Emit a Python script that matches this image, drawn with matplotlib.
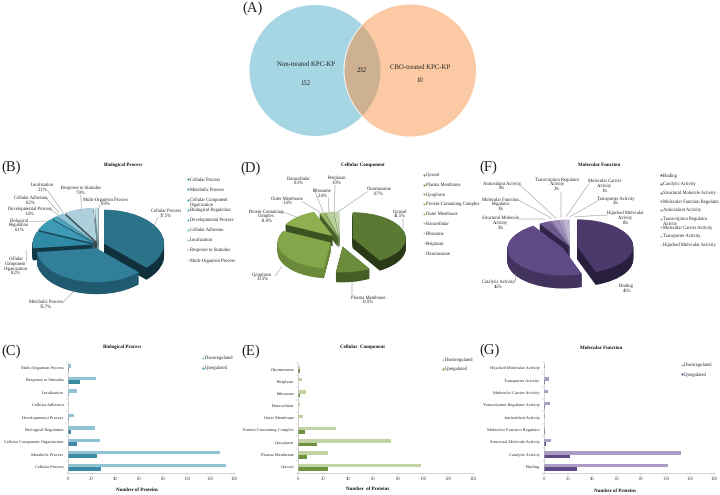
import numpy as np
import matplotlib
matplotlib.use("Agg")
import matplotlib.pyplot as plt
from matplotlib.patches import Circle

plt.rcParams['font.family'] = ['Liberation Serif', 'DejaVu Serif']
plt.rcParams['text.hinting'] = 'no_hinting'
W, H = 720, 495

# ---------- data ----------
bp_cats = ["Cellular Process", "Metabolic Process", "Cellular Component Organization",
           "Biological Regulation", "Developmental Process", "Cellular Adhesion",
           "Localization", "Response to Stimulus", "Multi-Organism Process"]
bp_down = [133, 128, 27, 23, 5, 1, 8, 24, 3]
bp_up = [28, 25, 8, 3, 1, 0, 1, 10, 1]

cc_cats = ["Cytosol", "Plasma Membrane", "Cytoplasm", "Protein-Containing Complex",
           "Outer Membrane", "Extracellular", "Ribosome", "Periplasm", "Chromosome"]
cc_down = [98, 24, 74, 30, 4, 1, 6, 3, 1]
cc_up = [24, 7, 15, 5, 0, 0, 1, 0, 1]

mf_cats = ["Binding", "Catalytic Activity", "Structural Molecule Activity",
           "Molecular Function Regulator", "Antioxidant Activity",
           "Transcription Regulator Activity", "Molecular Carrier Activity",
           "Transporter Activity", "Hijacked Molecular Activity"]
mf_down = [102, 113, 6, 1, 1, 5, 3, 4, 1]
mf_up = [27, 21, 2, 1, 0, 1, 0, 1, 0]

venn_left = "Non-treated KPC-KP"
venn_right = "CBO-treated KPC-KP"
venn_counts = [152, 232, 10]

bp_labels = ["Cellular Process\n37.5%", "Metabolic Process\n35.7%",
             "Cellular\nComponent\nOrganization\n8.2%", "Biological\nRegulation\n6.1%",
             "Developmental Process\n1.4%", "Cellular Adhesion\n0.2%",
             "Localization\n2.1%", "Response to Stimulus\n7.9%",
             "Multi-Organism Process\n0.9%"]
cc_labels = ["Cytosol\n41.5%", "Plasma Membrane\n10.5%", "Cytoplasm\n30.3%",
             "Protein-Containing\nComplex\n11.9%", "Outer Membrane\n1.4%",
             "Extracellular\n0.3%", "Ribosome\n2.4%", "Periplasm\n1.0%", "Chromosome\n0.7%"]
mf_labels = ["Binding\n45%", "Catalytic Activity\n46%", "Structural Molecule\nActivity\n3%",
             "Molecular Function\nRegulator\n1%", "Antioxidant Activity\n0%",
             "Transcription Regulator\nActivity\n2%", "Molecular Carrier\nActivity\n1%",
             "Transporter Activity\n2%", "Hijacked Molecular\nActivity\n0%"]

# ---------- layout & style ----------
bp_colors = ['#2b7389', '#327f9a', '#2f8aa6', '#3f9ab5', '#4ea5bd', '#6fb4c7', '#8ec4d4', '#aed0dc', '#c6e0e8']
bp_sides = ['#10303c', '#1f5a70', '#123644', '#1a4a5c', '#22566a', '#30687c', '#40788a', '#3c4a50', '#6f8c96']
cc_colors = ['#5a7a34', '#6b8c3d', '#84a64a', '#8fb04f', '#9dbb68', '#a9c37d', '#bad09a', '#cadcb4', '#dbe6cc']
cc_sides = ['#2a3a18', '#465e26', '#6a8a3a', '#3c5220', '#45602a', '#556f38', '#65804a', '#77905c', '#8aa070']
mf_colors = ['#4b3a6b', '#5f4a85', '#6c5a90', '#7a699b', '#8878a8', '#9a8cb6', '#ab9fc3', '#bfb5d1', '#d5cfe0']
mf_sides = ['#281e3e', '#43335f', '#2f2447', '#3b2e55', '#483a62', '#554870', '#665a80', '#786e90', '#8a84a0']
TXT = 3.3


def pie3d(values, colors, sides, cx, cy, rx, ry, depth, explode):
    m = 1.7
    ax = fig.add_axes([(cx - m * rx) / W, 1 - (cy + m * ry) / H, 2 * m * rx / W, 2 * m * ry / H])
    for z in np.arange(depth, 0, -0.5):
        ax.pie(values, colors=sides, startangle=90, counterclock=False, explode=explode,
               center=(0, -z / ry), radius=1, wedgeprops={'linewidth': 0})
    ax.pie(values, colors=colors, startangle=90, counterclock=False, explode=explode,
           center=(0, 0), radius=1, wedgeprops={'linewidth': 0})
    ax.set_aspect('auto')
    ax.set_xlim(-m, m)
    ax.set_ylim(-m, m)
    ax.axis('off')
    return ax


def barpanel(cats, down, up, c_down, c_up, x0, x1, y0, y1):
    ax = fig.add_axes([x0 / W, 1 - y1 / H, (x1 - x0) / W, (y1 - y0) / H])
    y = np.arange(len(cats))
    ax.barh(y + 0.13, down, height=0.27, color=c_down, linewidth=0)
    ax.barh(y - 0.16, up, height=0.31, color=c_up, linewidth=0)
    ax.set_xlim(0, 140)
    ax.set_ylim(-0.5, len(cats) - 0.5)
    ax.set_yticks(y, cats, fontsize=3.15, color='#222222')
    ax.set_yticks(np.arange(-0.5, len(cats)), minor=True)
    ax.set_xticks(np.arange(0, 141, 20))
    ax.tick_params(axis='x', labelsize=TXT, length=1.2, width=0.3, color='#aaaaaa',
                   labelcolor='#444444', pad=1.5)
    ax.tick_params(axis='y', which='major', length=0, pad=3)
    ax.tick_params(axis='y', which='minor', length=1.2, width=0.3, color='#aaaaaa')
    for s in ('top', 'right'):
        ax.spines[s].set_visible(False)
    for s in ('left', 'bottom'):
        ax.spines[s].set_linewidth(0.4)
        ax.spines[s].set_color('#b5b5b5')
    return ax


fig = plt.figure(figsize=(W / 100, H / 100), dpi=100, facecolor='white')

bp_vals = np.add(bp_down, bp_up)
cc_vals = np.add(cc_down, cc_up)
mf_vals = np.add(mf_down, mf_up)

pie3d(bp_vals, bp_colors, bp_sides, 98.5, 245, 60, 34, 12, [0.1] * 9)
pie3d(cc_vals, cc_colors, cc_sides, 340, 240, 53, 26, 10, [0.25, 0.25, 0.2, 0.2, 0.1, 0.1, 0.1, 0.1, 0.1])
pie3d(mf_vals, mf_colors, mf_sides, 570, 247, 56, 27, 13, [0.13, 0.13, 0.02, 0.02, 0.02, 0.02, 0.02, 0.02, 0.02])

barpanel(bp_cats, bp_down, bp_up, '#8fc2d2', '#3d8aa5', 67.7, 234.3, 361.5, 473)
barpanel(cc_cats, cc_down, cc_up, '#c1d3a2', '#6f9140', 298.3, 473.3, 363, 473)
barpanel(mf_cats, mf_down, mf_up, '#ab9cc5', '#5e4a85', 544, 714.3, 362, 473)

# overlay in pixel coordinates
ov = fig.add_axes([0, 0, 1, 1], facecolor='none')
ov.set_xlim(0, W)
ov.set_ylim(H, 0)
ov.axis('off')

# Venn
left = Circle((315, 70.5), 65.5, fc='#A6D5E4', ec='none')
right = Circle((410, 70.5), 66, fc='#FBC9A3', ec='none')
ov.add_patch(left)
ov.add_patch(right)
both = Circle((315, 70.5), 65.5, fc='#CDB191', ec='none')
ov.add_patch(both)
both.set_clip_path(right)
rim = Circle((410, 70.5), 66, fc='none', ec='white', lw=0.6)
ov.add_patch(rim)
rim.set_clip_path(left)
vt = dict(ha='center', va='center', fontsize=4.9, color='#222222')
ov.text(305.7, 64, venn_left, **vt)
ov.text(305.7, 83, str(venn_counts[0]), **vt)
ov.text(361.7, 70.5, str(venn_counts[1]), **vt)
ov.text(420, 67, venn_right, **vt)
ov.text(420, 80, str(venn_counts[2]), **vt)

# Panel letters
for s, x, y in [("(A)", 252.7, 8), ("(B)", 11, 167), ("(D)", 251, 168), ("(F)", 488, 167),
                ("(C)", 11, 351), ("(E)", 251, 351), ("(G)", 490, 350)]:
    ov.text(x, y, s, ha='center', va='center', fontsize=10.5, color='#222222')

# Titles and axis labels
for s, x, y in [("Biological Process", 123, 165), ("Cellular Component", 363, 165),
                ("Molecular Function", 599, 165), ("Biological Process", 122, 347),
                ("Cellular  Component", 362.7, 347), ("Molecular Function", 601, 348),
                ("Number of Proteins", 137, 490), ("Number  of Proteins", 368, 489),
                ("Number of Proteins", 615, 491)]:
    ov.text(x, y, s, ha='center', va='center', fontsize=3.6, fontweight='bold', color='#111111')

# Pie labels and leader lines
bp_lab_pos = [(165.7, 213), (46, 304), (16, 266), (19.3, 225), (29.3, 211), (30.7, 200), (42.3, 187), (80.7, 190), (106, 201.7)]
bp_leaders = [(158, 217, 153, 228), (62.7, 302.7, 75, 290), (26.7, 261, 26, 250), (29.3, 221.7, 46.7, 221),
              (50, 209.3, 58.3, 215), (46, 198, 59.3, 213), (47.7, 190.7, 63.3, 213), (80.7, 195, 81.7, 210), (100, 205, 98.3, 210)]
cc_lab_pos = [(400.3, 213.7), (368, 299.7), (262.3, 276.7), (266.7, 216), (287, 200.7), (298.7, 180.7), (322.7, 193), (336.7, 180), (379, 191)]
cc_leaders = [(403.3, 219, 403.3, 228), (352.3, 295, 352.3, 281.7), (275, 276, 281.7, 266.7), (283.3, 211.7, 299.3, 218.3),
              (302.7, 201.7, 320, 212.3), (314, 189.3, 323.3, 212.3), (328.3, 198.3, 329, 211.7), (335, 185, 334.3, 211.7), (367.3, 191.7, 338.3, 211.7)]
mf_lab_pos = [(626.7, 288.3), (498.3, 284), (500.7, 222.7), (500.7, 204), (501.7, 185.7), (557.3, 184), (605, 185.7), (616, 200.7), (625.7, 217.7)]
mf_leaders = [(515, 282.3, 516, 273), (518.3, 219.3, 545, 219.3), (518.3, 200, 551.7, 218.3), (520, 185, 556, 218.3),
              (561, 191.7, 561, 216.7), (589.3, 183.3, 566, 216.7), (599.3, 200, 570, 216.7), (607.7, 215, 575, 216.7)]

for labs, pos, leaders in [(bp_labels, bp_lab_pos, bp_leaders), (cc_labels, cc_lab_pos, cc_leaders), (mf_labels, mf_lab_pos, mf_leaders)]:
    for s, (x, y) in zip(labs, pos):
        ov.text(x, y, s, ha='center', va='center', fontsize=TXT, color='#222222', linespacing=1.05)
    for (a, b, c, d) in leaders:
        ov.plot([a, c], [b, d], color='#8c8c8c', lw=0.35)

# Pie legends
bp_leg_y = [179.3, 189.3, 199.7, 210, 220, 230, 240, 250, 260.3]
cc_leg_y = [175, 184.7, 194.3, 204, 213.7, 223.3, 233.3, 243.3, 253.3]
mf_leg_y = [175.3, 184, 192.7, 201.3, 210, 218.7, 227.3, 236, 244.7]
for cats, cols, x, ys in [(bp_cats, bp_colors, 188, bp_leg_y), (cc_cats, cc_colors, 424, cc_leg_y), (mf_cats, mf_colors, 661, mf_leg_y)]:
    for s, c, y in zip(cats, cols, ys):
        ov.plot([x], [y], marker='s', ms=1.3, color=c, mew=0)
        if s == "Cellular Component Organization":
            s = "Cellular Component\nOrganization"
            y += 2.3
        elif s == "Transcription Regulator Activity":
            s = "Transcription Regulator\nActivity"
            y += 2.3
        ov.text(x + 2, y, s, ha='left', va='center', fontsize=TXT, color='#222222', linespacing=1.0)

# Bar legends
for x, y1, y2, cd, cu in [(203, 358, 367.7, '#8fc2d2', '#3d8aa5'), (443.3, 360, 369, '#c1d3a2', '#6f9140'),
                          (681.7, 365, 374.3, '#ab9cc5', '#5e4a85')]:
    ov.plot([x], [y1], marker='s', ms=1.4, color=cd, mew=0)
    ov.plot([x], [y2], marker='s', ms=1.4, color=cu, mew=0)
    ov.text(x + 2, y1, "Downregulated", ha='left', va='center', fontsize=TXT, color='#222222')
    ov.text(x + 2, y2, "Upregulated", ha='left', va='center', fontsize=TXT, color='#222222')

fig.savefig("out.png", dpi=100)
